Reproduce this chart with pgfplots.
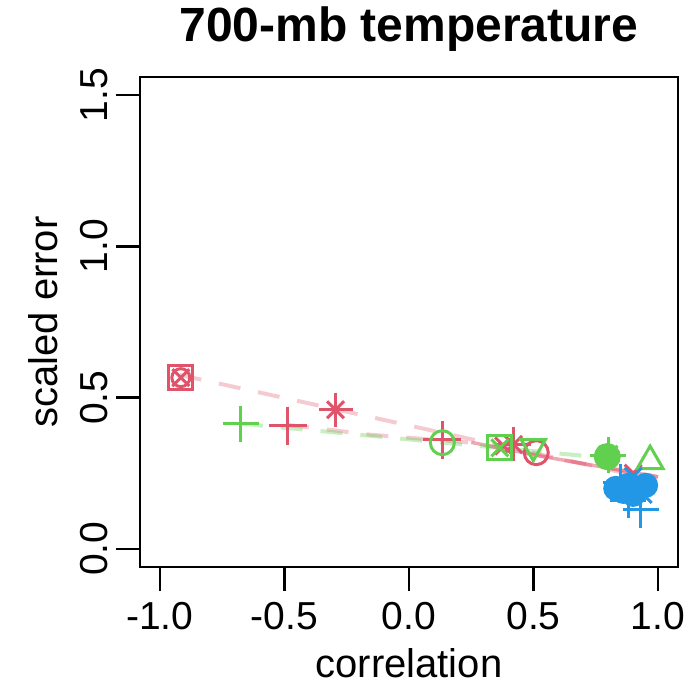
\documentclass[border=0pt]{standalone}
\usepackage{fontspec}
\setmainfont{Liberation Sans}
\usepackage{pgfplots}
\pgfplotsset{compat=1.18}
\definecolor{rred}{HTML}{DF536B}
\definecolor{rgreen}{HTML}{61D04F}
\definecolor{rblue}{HTML}{2297E6}

\begin{document}
\begin{tikzpicture}
\begin{axis}[
    name=ax,
    scale only axis,
    width=538pt, height=490pt,
    xmin=-1.08, xmax=1.08, ymin=-0.06, ymax=1.56,
    xtick={-1,-0.5,0,0.5,1}, ytick={0,0.5,1,1.5},
    xtick pos=bottom, ytick pos=left,
    tick align=outside,
    major tick length=24pt,
    every tick/.style={black, line width=2.4pt},
    axis line style={line width=2.8pt},
    tick label style={font=\fontsize{39}{46}\selectfont, inner sep=0pt},
    /pgf/number format/.cd, fixed, fixed zerofill, precision=1, assume math mode=true,
    /pgfplots/.cd,
    xticklabel style={anchor=north, yshift=-11pt},
    yticklabel style={xshift=-8pt, rotate=90, anchor=south},
    label style={font=\fontsize{40}{48}\selectfont},
    xlabel={correlation},
    ylabel={scaled error},
    xlabel style={at={(axis description cs:0.5,-0.2265)}, anchor=base},
    ylabel style={at={(axis description cs:-0.154,0.5)}, anchor=base},
    title={700-mb temperature},
    title style={at={(axis description cs:0.5,1.06)}, anchor=base, font=\fontsize{48}{56}\selectfont\bfseries},
    clip=false,
    every axis plot/.append style={line width=3pt},
]
% connecting lines
\addplot[rred, opacity=0.3, line width=4pt, dash pattern=on 22pt off 18pt] coordinates {(-0.92,0.575) (0.98,0.23)};
\addplot[rred, opacity=0.3, line width=4pt, dash pattern=on 22pt off 18pt] coordinates {(-0.49,0.41) (-0.15,0.377) (0.255,0.351) (0.54,0.305) (1.0,0.238)};
\addplot[rred, opacity=0.5, line width=3.5pt] coordinates {(0.25,0.352) (0.54,0.305) (1.0,0.238)};
\addplot[rgreen, opacity=0.35, line width=4pt, dash pattern=on 22pt off 18pt] coordinates {(-0.675,0.414) (0.8,0.30)};

% red
\addplot[only marks, rred, mark=square, mark size=12pt] coordinates {(-0.916,0.566)};
\addplot[only marks, rred, mark=x, mark size=12pt] coordinates {(-0.916,0.566)};
\addplot[only marks, rred, mark=o, mark size=9pt] coordinates {(-0.916,0.566)};
\addplot[only marks, rred, mark=+, mark size=19pt] coordinates {(-0.487,0.407) (0.134,0.361)};
\addplot[only marks, rred, mark=+, mark size=17pt] coordinates {(-0.295,0.46) (0.42,0.345)};
\addplot[only marks, rred, mark=x, mark size=12pt] coordinates {(-0.295,0.46) (0.42,0.345) (0.38,0.34) (0.9,0.25)};
\addplot[only marks, rred, mark=o, mark size=12pt] coordinates {(0.511,0.318)};

% green
\addplot[only marks, rgreen, mark=+, mark size=18pt] coordinates {(-0.675,0.414)};
\addplot[only marks, rgreen, mark=o, mark size=12pt] coordinates {(0.134,0.351)};
\addplot[only marks, rgreen, mark=square, mark size=12pt] coordinates {(0.365,0.334)};
\addplot[only marks, rgreen, mark=x, mark size=12pt] coordinates {(0.365,0.334)};
\addplot[only marks, rgreen, mark=triangle, mark size=14pt, mark options={rotate=180}] coordinates {(0.499,0.338)};
\addplot[only marks, rgreen, mark=*, mark size=12pt] coordinates {(0.796,0.305)};
\addplot[only marks, rgreen, mark=+, mark size=18pt] coordinates {(0.8,0.31)};
\addplot[only marks, rgreen, mark=x, mark size=13pt] coordinates {(0.8,0.31)};
\addplot[only marks, rgreen, mark=triangle, mark size=15pt] coordinates {(0.968,0.29)};

% blue
\addplot[only marks, rblue, mark=*, mark size=11pt] coordinates {(0.88,0.21) (0.92,0.20) (0.90,0.18) (0.95,0.21) (0.86,0.19) (0.83,0.20)};
\addplot[only marks, rblue, mark=+, mark size=18pt] coordinates {(0.93,0.13) (0.88,0.16) (0.85,0.22)};
\addplot[only marks, rblue, mark=x, mark size=12pt] coordinates {(0.9,0.24) (0.94,0.18)};
\end{axis}
\pgfresetboundingbox
\path[use as bounding box] ([xshift=-140pt,yshift=-119pt]ax.south west) rectangle ([xshift=11pt,yshift=77pt]ax.north east);
\end{tikzpicture}
\end{document}
